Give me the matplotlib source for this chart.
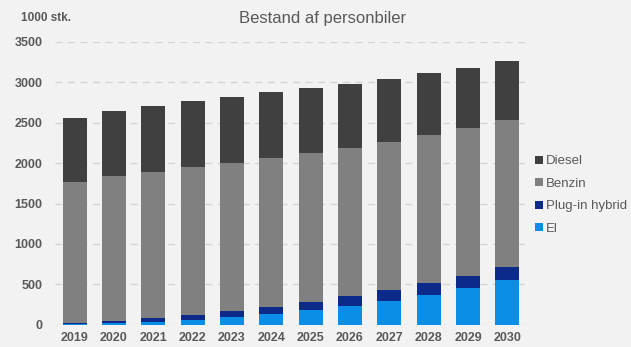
import matplotlib
matplotlib.use("Agg")
import matplotlib.pyplot as plt
import numpy as np

plt.rcParams["font.family"] = ["Liberation Sans", "DejaVu Sans"]

# data (1000 stk.)
years = ["2019", "2020", "2021", "2022", "2023", "2024",
         "2025", "2026", "2027", "2028", "2029", "2030"]
el = [5, 18, 35, 60, 97, 130, 180, 235, 295, 365, 450, 548]
plugin = [10, 30, 45, 62, 78, 90, 95, 115, 130, 150, 150, 167]
benzin = [1750, 1787, 1815, 1833, 1830, 1840, 1850, 1840, 1840, 1830, 1830, 1815]
diesel = [795, 805, 810, 810, 815, 815, 800, 795, 780, 770, 745, 730]

series = [("El", el, "#0b8fe6"),
          ("Plug-in hybrid", plugin, "#0c2a8a"),
          ("Benzin", benzin, "#808080"),
          ("Diesel", diesel, "#404040")]

bg = "#f2f2f2"
txt = "#595959"

fig = plt.figure(figsize=(6.31, 3.47), dpi=100, facecolor=bg)
ax = fig.add_axes([55 / 631, 1 - 324.7 / 347, 472 / 631, (324.7 - 42) / 347])
ax.set_facecolor(bg)

x = np.arange(len(years))
bottom = np.zeros(len(years))
handles = {}
for name, vals, col in series:
    h = ax.bar(x, vals, 0.61, bottom=bottom, color=col, zorder=3, label=name)
    handles[name] = h
    bottom += np.array(vals)

ax.set_xlim(-0.5, len(years) - 0.5)
ax.set_ylim(0, 3500)
ax.set_yticks(range(0, 3501, 500))
ax.set_xticks(x)
ax.set_xticklabels(years)
ax.yaxis.grid(True, linestyle=(0, (5, 4)), color="#d4d4d4", linewidth=1, zorder=0)
ax.tick_params(length=0, labelsize=9, colors=txt, pad=5)
ax.tick_params(axis="y", pad=9)
for lab in ax.get_xticklabels() + ax.get_yticklabels():
    lab.set_fontweight("bold")
for s in ax.spines.values():
    s.set_visible(False)

fig.text(21 / 631, 1 - 18 / 347, "1000 stk.", fontsize=8.5, fontweight="bold",
         color=txt, va="center", ha="left")
fig.text(323 / 631, 1 - 18 / 347, "Bestand af personbiler", fontsize=12,
         color=txt, va="center", ha="center")

order = ["Diesel", "Benzin", "Plug-in hybrid", "El"]
leg = fig.legend([handles[n] for n in order], order, loc="upper left",
                 bbox_to_anchor=(530 / 631, 1 - 150 / 347), frameon=False,
                 fontsize=9.5, handlelength=0.55, handleheight=0.55,
                 handletextpad=0.25, labelspacing=0.8, borderaxespad=0)
for t in leg.get_texts():
    t.set_color(txt)

fig.savefig("out.png", dpi=100, facecolor=bg)
